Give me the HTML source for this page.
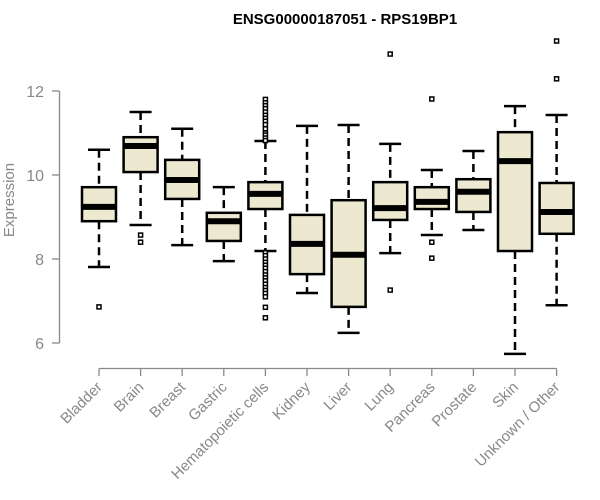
<!DOCTYPE html>
<html><head><meta charset="utf-8"><style>
body{margin:0;background:#fff;}
svg{display:block;font-family:"Liberation Sans",Arial,sans-serif;}
</style></head><body>
<svg id="c" width="600" height="500">
<text x="345" y="24" text-anchor="middle" font-weight="bold" font-size="15">ENSG00000187051 - RPS19BP1</text>
<text transform="translate(14,200) rotate(-90)" text-anchor="middle" font-size="15" fill="#888">Expression</text>
<g id="g"></g>
</svg>
<script>
const categories=["Bladder","Brain","Breast","Gastric","Hematopoietic cells","Kidney","Liver","Lung","Pancreas","Prostate","Skin","Unknown / Other"];
const whiskerLow=[7.81,8.81,8.33,7.95,8.19,7.19,6.24,8.14,8.57,8.69,5.74,6.9];
const q1=[8.9,10.07,9.43,8.43,9.19,7.64,6.86,8.93,9.19,9.12,8.19,8.6];
const median=[9.24,10.69,9.88,8.9,9.55,8.36,8.1,9.21,9.36,9.6,10.33,9.12];
const q3=[9.71,10.9,10.36,9.1,9.83,9.05,9.4,9.83,9.71,9.9,11.02,9.81];
const whiskerHigh=[10.6,11.5,11.1,9.71,10.81,11.17,11.19,10.74,10.12,10.57,11.64,11.43];
const outliers=[[6.86],[8.57,8.4],[],[],[11.8,11.72,11.65,11.58,11.5,11.42,11.35,11.28,11.2,11.1,11.0,10.95,10.88,10.82,8.15,8.08,8.0,7.92,7.85,7.78,7.7,7.62,7.55,7.48,7.4,7.32,7.25,7.18,7.1,6.85,6.6],[],[],[12.88,7.26],[11.81,8.4,8.02],[],[],[13.19,12.29]];
const yTicks=[6,8,10,12];
const g=document.getElementById('g');
const NS="http://www.w3.org/2000/svg";
const y=v=>343-(v-6)*42;
const x=i=>99+i*41.6;
function mk(t,a,p){const e=document.createElementNS(NS,t);for(const k in a)e.setAttribute(k,a[k]);(p||g).appendChild(e);return e;}
// y axis
let ya=mk('g',{});


mk('line',{x1:59.5,x2:59.5,y1:y(12),y2:y(6),stroke:'#888','stroke-width':1.3},ya);
yTicks.forEach(t=>{mk('line',{x1:52,x2:59.5,y1:y(t),y2:y(t),stroke:'#888','stroke-width':1.3},ya);
const tx=mk('text',{x:44,y:y(t)+6,'text-anchor':'end','font-size':16,fill:'#888'},ya);tx.textContent=t;

});
// x axis
let xa=mk('g',{});


mk('line',{x1:x(0),x2:x(11),y1:368.5,y2:368.5,stroke:'#888','stroke-width':1.3},xa);
categories.forEach((c,i)=>{mk('line',{x1:x(i),x2:x(i),y1:368.5,y2:376,stroke:'#888','stroke-width':1.3},xa);
const tx=mk('text',{x:x(i)+4,y:388,'text-anchor':'end','font-size':15,fill:'#888',transform:`rotate(-45 ${x(i)+4} 388)`},xa);tx.textContent=c;

});
// boxes
categories.forEach((c,i)=>{const b=mk('g',{});


const cx=x(i),w=17,cap=11;
mk('line',{x1:cx,x2:cx,y1:y(whiskerHigh[i]),y2:y(q3[i]),stroke:'#000','stroke-width':2.5,'stroke-dasharray':'8,5'},b);
mk('line',{x1:cx,x2:cx,y1:y(q1[i]),y2:y(whiskerLow[i]),stroke:'#000','stroke-width':2.5,'stroke-dasharray':'8,5'},b);
mk('line',{x1:cx-cap,x2:cx+cap,y1:y(whiskerHigh[i]),y2:y(whiskerHigh[i]),stroke:'#000','stroke-width':2.5},b);
mk('line',{x1:cx-cap,x2:cx+cap,y1:y(whiskerLow[i]),y2:y(whiskerLow[i]),stroke:'#000','stroke-width':2.5},b);
mk('rect',{x:cx-w,y:y(q3[i]),width:2*w,height:y(q1[i])-y(q3[i]),fill:'#ede8d0',stroke:'#000','stroke-width':2.5},b);
mk('line',{x1:cx-w,x2:cx+w,y1:y(median[i]),y2:y(median[i]),stroke:'#000','stroke-width':6},b);
outliers[i].forEach(o=>mk('rect',{x:cx-2,y:y(o)-2,width:4,height:4,fill:'#fff',stroke:'#000','stroke-width':1.5},b));
});
</script>
</body></html>
